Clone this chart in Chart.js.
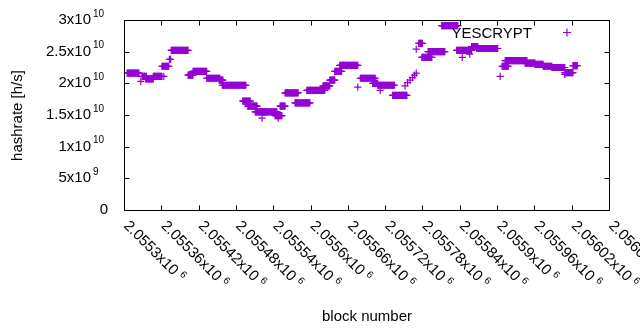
<!DOCTYPE html>
<html>
<head>
<meta charset="utf-8">
<script src="https://cdn.jsdelivr.net/npm/chart.js@4/dist/chart.umd.min.js"></script>
<style>
html,body{margin:0;padding:0;background:#fff;}
#wrap{width:640px;height:330px;position:relative;}
</style>
</head>
<body>
<div id="wrap"><canvas id="c" width="640" height="330"></canvas></div>
<script>
// ---- data (runs of constant hashrate over block ranges) ----
const seriesLabel = "YESCRYPT";
const runStart = [2055305,2055327,2055329,2055335,2055347,2055364,2055361,2055373,2055376,2055403,
  2055411,2055433,2055453,2055458,2055491,2055499,2055511,2055522,2055522,2055543,
  2055548,2055551,2055559,2055575,2055594,2055620,2055631,2055639,2055647,2055676,
  2055680,2055700,2055712,2055708,2055732,2055752,2055756,2055760,2055764,2055767,
  2055770,2055770,2055774,2055779,2055789,2055811,2055835,2055844,2055856,2055859,
  2055867,2055905,2055908,2055913,2055945,2055961,2055974,2055988,2056009,2056009,
  2056022];
const runEnd = [2055324,2055327,2055336,2055347,2055361,2055364,2055372,2055375,2055403,2055411,
  2055433,2055454,2055459,2055496,2055503,2055514,2055527,2055522,2055546,2055554,
  2055548,2055559,2055580,2055599,2055623,2055631,2055639,2055650,2055676,2055676,
  2055704,2055708,2055712,2055735,2055755,2055752,2055756,2055760,2055764,2055767,
  2055770,2055770,2055780,2055795,2055816,2055837,2055859,2055844,2055856,2055869,
  2055901,2055905,2055918,2055948,2055961,2055974,2055988,2056009,2056009,2056022,
  2056029];
const runHashrate = [2.16e10,2.03e10,2.11e10,2.07e10,2.11e10,2.11e10,2.27e10,2.38e10,2.52e10,2.13e10,
  2.19e10,2.08e10,2.05e10,1.97e10,1.72e10,1.64e10,1.55e10,1.45e10,1.55e10,1.49e10,
  1.45e10,1.64e10,1.85e10,1.69e10,1.89e10,1.96e10,2.05e10,2.19e10,2.285e10,1.94e10,
  2.08e10,2.00e10,1.89e10,1.97e10,1.81e10,1.96e10,2.01e10,2.05e10,2.09e10,2.13e10,
  2.16e10,2.54e10,2.63e10,2.41e10,2.50e10,2.91e10,2.52e10,2.41e10,2.46e10,2.58e10,
  2.55e10,2.11e10,2.27e10,2.36e10,2.32e10,2.30e10,2.27e10,2.25e10,2.14e10,2.17e10,
  2.28e10];

const xTickValues = [2055300,2055360,2055420,2055480,2055540,2055600,2055660,2055720,2055780,2055840,2055900,2055960,2056020,2056080];
const xTickMantissa = ["2.0553","2.05536","2.05542","2.05548","2.05554","2.0556","2.05566","2.05572","2.05578","2.05584","2.0559","2.05596","2.05602","2.05608"];
const xTickExp = "6";
const yTickValues = [0,5e9,1e10,1.5e10,2e10,2.5e10,3e10];
const yTickMantissa = ["0","5","1","1.5","2","2.5","3"];
const yTickExp = ["","9","10","10","10","10","10"];
const xTitle = "block number";
const yTitle = "hashrate [h/s]";

// expand runs into per-block points
const points = [];
for (let i = 0; i < runStart.length; i++) {
  for (let b = runStart[i]; b <= runEnd[i]; b++) points.push({x: b, y: runHashrate[i]});
}

const COLOR = '#9400d3';
const FONT = '"Liberation Sans", Arial, sans-serif';
const MAIN = 15, SUP = 10;

const framePlugin = {
  id: 'frame',
  afterDraw(chart) {
    const ctx = chart.ctx, a = chart.chartArea, xs = chart.scales.x, ys = chart.scales.y;
    ctx.save();
    const L = Math.round(a.left) + 0.5, R = Math.round(a.right) + 0.5;
    const T = Math.round(a.top) + 0.5, B = Math.round(a.bottom) + 0.5;
    ctx.strokeStyle = '#000'; ctx.lineWidth = 1;
    ctx.beginPath();
    ctx.rect(L, T, R - L, B - T);
    const tl = 5;
    xTickValues.forEach(v => {
      const px = Math.round(xs.getPixelForValue(v)) + 0.5;
      ctx.moveTo(px, B); ctx.lineTo(px, B - tl);
      ctx.moveTo(px, T); ctx.lineTo(px, T + tl);
    });
    yTickValues.forEach(v => {
      const py = Math.round(ys.getPixelForValue(v)) + 0.5;
      ctx.moveTo(L, py); ctx.lineTo(L + tl, py);
      ctx.moveTo(R, py); ctx.lineTo(R - tl, py);
    });
    ctx.stroke();

    ctx.fillStyle = '#000';
    // y tick labels
    yTickValues.forEach((v, i) => {
      const py = ys.getPixelForValue(v);
      ctx.textBaseline = 'middle';
      if (yTickExp[i] === '') {
        ctx.font = MAIN + 'px ' + FONT; ctx.textAlign = 'right';
        ctx.fillText(yTickMantissa[i], 108, py);
      } else {
        ctx.font = MAIN + 'px ' + FONT; ctx.textAlign = 'right';
        ctx.fillText(yTickMantissa[i] + 'x10', 91, py);
        ctx.font = SUP + 'px ' + FONT; ctx.textAlign = 'left';
        ctx.fillText(yTickExp[i], 93, py - 6);
      }
    });
    // x tick labels (rotated 45deg clockwise, starting at tick)
    xTickValues.forEach((v, i) => {
      const px = xs.getPixelForValue(v);
      ctx.save();
      ctx.translate(px + 2, B + 13);
      ctx.rotate(Math.PI / 4);
      ctx.textAlign = 'left'; ctx.textBaseline = 'middle';
      ctx.font = MAIN + 'px ' + FONT;
      const t = xTickMantissa[i] + 'x10';
      ctx.fillText(t, 0, 0);
      const w = ctx.measureText(t).width;
      ctx.font = SUP + 'px ' + FONT;
      ctx.fillText(xTickExp, w + 4, -4);
      ctx.restore();
    });
    // axis titles
    ctx.font = MAIN + 'px ' + FONT;
    ctx.textAlign = 'center'; ctx.textBaseline = 'alphabetic';
    ctx.fillText(xTitle, (L + R) / 2, 321);
    ctx.save();
    ctx.translate(22, (T + B) / 2);
    ctx.rotate(-Math.PI / 2);
    ctx.textBaseline = 'alphabetic';
    ctx.fillText(yTitle, 0, 0);
    ctx.restore();
    // legend
    ctx.textAlign = 'right'; ctx.textBaseline = 'alphabetic';
    ctx.fillText(chart.data.datasets[0].label, 532, 38);
    ctx.strokeStyle = COLOR; ctx.lineWidth = 1.2;
    ctx.beginPath();
    ctx.moveTo(563, 32.5); ctx.lineTo(571, 32.5);
    ctx.moveTo(567, 28.5); ctx.lineTo(567, 36.5);
    ctx.stroke();
    ctx.restore();
  }
};

new Chart(document.getElementById('c'), {
  type: 'scatter',
  data: {
    datasets: [{
      label: seriesLabel,
      data: points,
      pointStyle: 'cross',
      pointRadius: 3.6,
      borderColor: COLOR,
      backgroundColor: COLOR,
      borderWidth: 1.2,
      showLine: false
    }]
  },
  options: {
    responsive: false,
    animation: false,
    devicePixelRatio: 1,
    layout: { padding: { left: 124, right: 31, top: 20, bottom: 120 } },
    plugins: { legend: { display: false }, tooltip: { enabled: false } },
    scales: {
      x: { type: 'linear', display: false, min: 2055300, max: 2056080 },
      y: { type: 'linear', display: false, min: 0, max: 3e10 }
    }
  },
  plugins: [framePlugin]
});
</script>
</body>
</html>
